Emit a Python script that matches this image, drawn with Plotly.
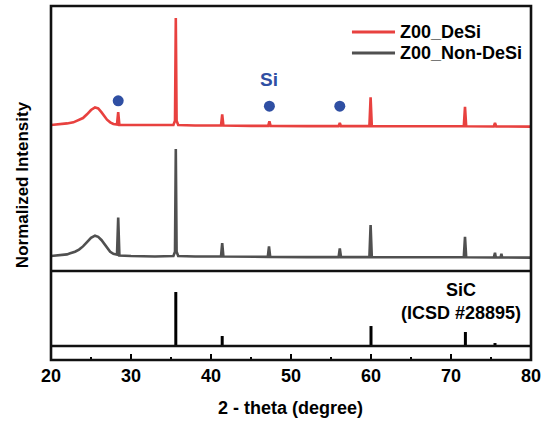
import plotly.graph_objects as go

# ---------------- data ----------------
# Z00_DeSi (normalized intensity, own baseline = 0)
desi_x = [20.0, 21.0, 22.0, 22.8, 23.5, 24.0, 24.5, 25.0, 25.5, 25.9, 26.3, 26.7, 27.0, 27.4, 27.8,
          28.25, 28.4, 28.55, 30.0, 33.0, 35.3, 35.5, 35.6, 35.7, 35.9, 38.0,
          41.25, 41.4, 41.55, 45.0, 47.15, 47.3, 47.45, 52.0, 55.95, 56.1, 56.25,
          59.8, 59.95, 60.1, 65.0, 71.6, 71.75, 71.9, 75.35, 75.5, 75.65, 80.0]
desi_y = [0.0, 0.005, 0.015, 0.025, 0.045, 0.065, 0.10, 0.14, 0.165, 0.155, 0.12, 0.08, 0.05, 0.025, 0.01,
          0.005, 0.12, 0.0, 0.0, -0.005, 0.0, 0.04, 1.0, 0.04, 0.0, -0.005,
          -0.005, 0.10, -0.005, -0.008, -0.008, 0.035, -0.008, -0.01, -0.01, 0.02, -0.01,
          -0.01, 0.26, -0.01, -0.012, -0.012, 0.17, -0.012, -0.014, 0.02, -0.014, -0.015]

# Z00_Non-DeSi
nondesi_x = [20.0, 21.0, 22.0, 22.4, 23.0, 23.5, 24.0, 24.5, 25.0, 25.5, 25.9, 26.3, 26.7, 27.0, 27.4, 27.8,
             28.25, 28.4, 28.55, 30.0, 33.0, 35.3, 35.5, 35.6, 35.7, 35.9, 38.0,
             41.25, 41.4, 41.55, 45.0, 47.1, 47.25, 47.4, 52.0, 55.95, 56.1, 56.25,
             59.8, 59.95, 60.1, 65.0, 71.6, 71.75, 71.9, 75.35, 75.5, 75.6, 76.2, 76.3, 76.4, 80.0]
nondesi_y = [0.0, 0.006, 0.015, 0.025, 0.04, 0.06, 0.09, 0.13, 0.17, 0.19, 0.18, 0.15, 0.11, 0.08, 0.04, 0.02,
             0.012, 0.36, 0.005, 0.0, -0.005, 0.0, 0.04, 1.0, 0.04, 0.0, -0.005,
             -0.005, 0.12, -0.005, -0.008, -0.008, 0.09, -0.008, -0.01, -0.01, 0.07, -0.01,
             -0.01, 0.29, -0.01, -0.012, -0.012, 0.18, -0.012, -0.014, 0.03, -0.014, -0.014, 0.02, -0.014, -0.015]

# SiC reference (ICSD #28895) stick pattern
sic_pos = [35.6, 41.4, 60.0, 71.8, 75.5]
sic_int = [100, 18.5, 37, 26, 5.5]

# Si peak markers
si_marker_x = [28.4, 47.3, 56.1]
si_marker_y = [1.45, 1.40, 1.40]
si_label_pos = (47.3, 1.645)

desi_offset = 1.224

names = ["Z00_DeSi", "Z00_Non-DeSi"]
colors = ["#e8413f", "#505050"]
blue = "#2f4fa3"
FONT = "Arial, Liberation Sans, sans-serif"

# ---------------- figure ----------------
fig = go.Figure()

fig.add_trace(go.Scatter(x=desi_x, y=[v + desi_offset for v in desi_y], mode="lines",
                         line=dict(color=colors[0], width=2.6), name=names[0],
                         showlegend=False, xaxis="x", yaxis="y"))
fig.add_trace(go.Scatter(x=nondesi_x, y=nondesi_y, mode="lines",
                         line=dict(color=colors[1], width=2.6), name=names[1],
                         showlegend=False, xaxis="x", yaxis="y"))
fig.add_trace(go.Scatter(x=si_marker_x, y=si_marker_y, mode="markers",
                         marker=dict(color=blue, size=11, line=dict(width=0)),
                         showlegend=False, xaxis="x", yaxis="y"))

sx, sy = [], []
for p, h in zip(sic_pos, sic_int):
    sx += [p, p, None]
    sy += [0, h, None]
fig.add_trace(go.Scatter(x=sx, y=sy, mode="lines", line=dict(color="black", width=3),
                         showlegend=False, xaxis="x", yaxis="y2"))

split = 0.2514

fig.update_layout(
    width=548, height=421,
    margin=dict(l=51, r=17, t=6, b=61),
    paper_bgcolor="white", plot_bgcolor="white",
    showlegend=False,
    xaxis=dict(range=[20, 80], anchor="y2", showgrid=False, zeroline=False, showline=False,
               tickmode="array", tickvals=[20, 30, 40, 50, 60, 70, 80],
               ticks="inside", ticklen=6, tickwidth=2, tickcolor="black",
               minor=dict(tickvals=[25, 35, 45, 55, 65, 75], ticks="inside", ticklen=3,
                          tickwidth=2, tickcolor="black"),
               tickfont=dict(family=FONT, size=18, color="black", weight="bold"),
               ticklabelstandoff=3),
    yaxis=dict(domain=[split, 1], range=[-0.14, 2.336], visible=False),
    yaxis2=dict(domain=[0, split], range=[-25.9, 138.9], visible=False),
)

shapes = [
    dict(type="rect", xref="paper", yref="paper", x0=0, x1=1, y0=0, y1=1,
         line=dict(color="#111111", width=2.6)),
    dict(type="line", xref="paper", yref="paper", x0=0, x1=1, y0=split, y1=split,
         line=dict(color="#111111", width=2.6)),
    dict(type="line", xref="x", yref="y2", x0=20, x1=80, y0=0, y1=0,
         line=dict(color="#111111", width=2.6)),
]
# legend drawn by hand
leg_y = [0.9266, 0.8672]
for name, col, yy in zip(names, colors, leg_y):
    shapes.append(dict(type="line", xref="paper", yref="paper", x0=0.627, x1=0.7167,
                       y0=yy, y1=yy, line=dict(color=col, width=3)))
fig.update_layout(shapes=shapes)

ann = []
for name, yy in zip(names, leg_y):
    ann.append(dict(text=name, xref="paper", yref="paper", x=0.7229, y=yy, xanchor="left",
                    yanchor="middle", showarrow=False,
                    font=dict(family=FONT, size=18, color="black", weight="bold")))
ann.append(dict(text="Si", xref="x", yref="y", x=si_label_pos[0], y=si_label_pos[1],
                showarrow=False, font=dict(family=FONT, size=19, color=blue, weight="bold")))
ann.append(dict(text="SiC<br>(ICSD #28895)", xref="paper", yref="paper", x=(461 - 51) / 480,
                y=(360 - 301) / 354, xanchor="center", yanchor="middle", showarrow=False,
                align="center",
                font=dict(family=FONT, size=18, color="black", weight="bold")))
ann.append(dict(text="2 - theta (degree)", xref="paper", yref="paper", x=0.499, y=-0.1356,
                xanchor="center", yanchor="middle", showarrow=False,
                font=dict(family=FONT, size=18, color="black", weight="bold")))
ann.append(dict(text="Normalized Intensity", xref="paper", yref="paper", x=-0.0604, y=0.494,
                xanchor="center", yanchor="middle", showarrow=False, textangle=-90,
                font=dict(family=FONT, size=17, color="black", weight="bold")))
fig.update_layout(annotations=ann)

fig.write_html("out.html", config={"displayModeBar": False},
               post_script="document.body.style.margin='0px';document.body.style.overflow='hidden';")
